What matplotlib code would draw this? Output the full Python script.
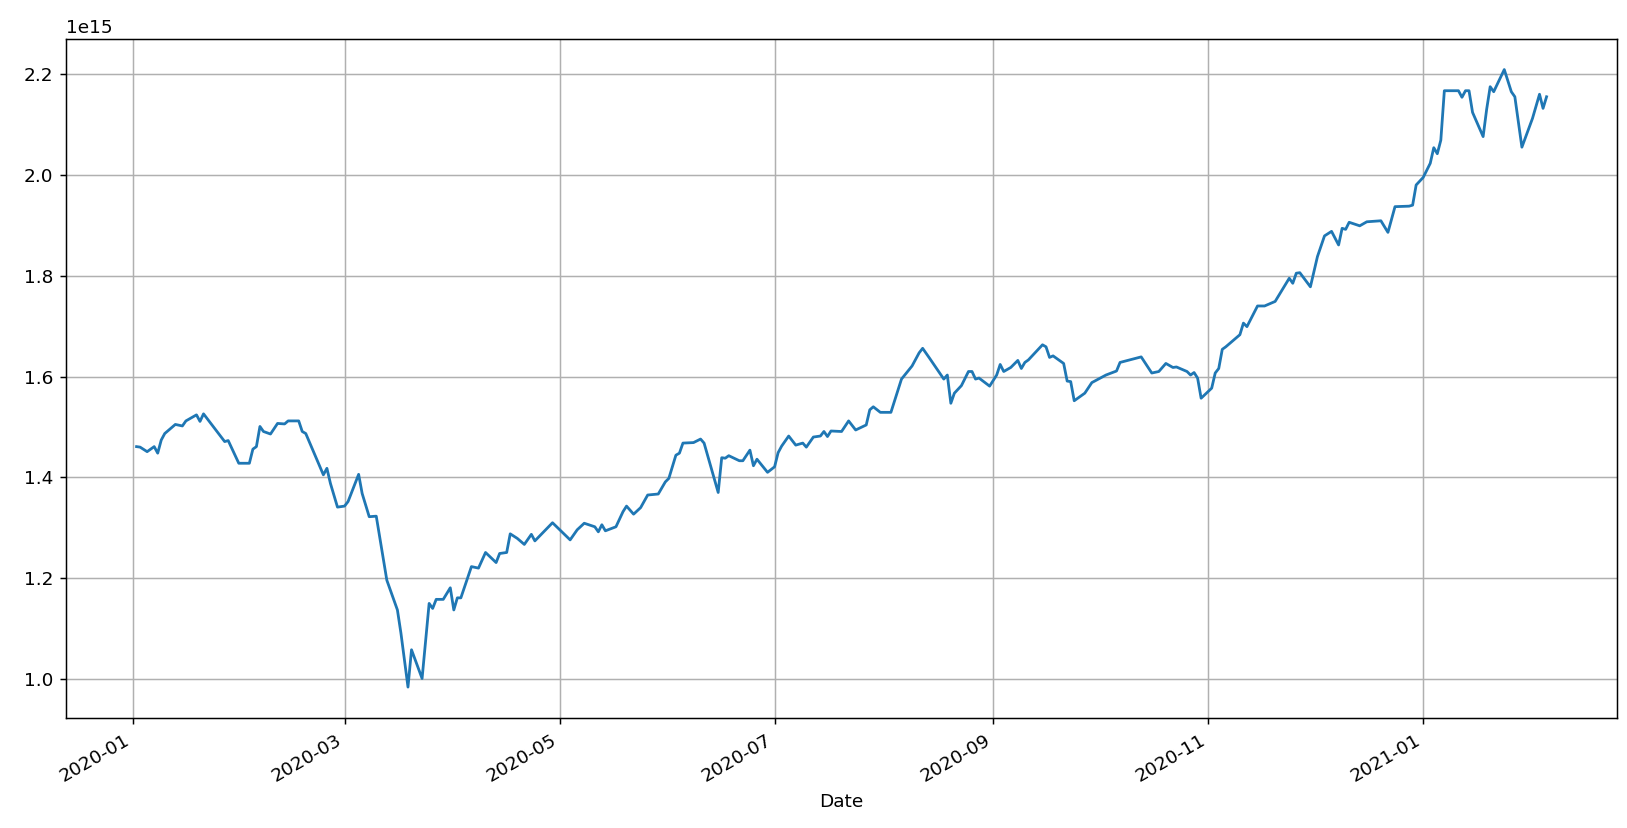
import matplotlib
matplotlib.use("Agg")
import matplotlib.pyplot as plt
import pandas as pd

# valeurs (unité : 1e15)
dates = [
    "2020-01-02", "2020-01-03", "2020-01-05", "2020-01-07", "2020-01-08", "2020-01-09",
    "2020-01-10", "2020-01-13", "2020-01-15", "2020-01-16", "2020-01-19", "2020-01-20",
    "2020-01-21", "2020-01-27", "2020-01-28", "2020-01-31", "2020-02-03", "2020-02-04",
    "2020-02-05", "2020-02-06", "2020-02-07", "2020-02-09", "2020-02-11", "2020-02-13",
    "2020-02-14", "2020-02-17", "2020-02-18", "2020-02-19", "2020-02-24", "2020-02-25",
    "2020-02-26", "2020-02-28", "2020-03-01", "2020-03-02", "2020-03-05", "2020-03-06",
    "2020-03-08", "2020-03-10", "2020-03-13", "2020-03-15", "2020-03-16", "2020-03-17",
    "2020-03-19", "2020-03-20", "2020-03-23", "2020-03-25", "2020-03-26", "2020-03-27",
    "2020-03-29", "2020-03-31", "2020-04-01", "2020-04-02", "2020-04-03", "2020-04-06",
    "2020-04-08", "2020-04-10", "2020-04-13", "2020-04-14", "2020-04-16", "2020-04-17",
    "2020-04-19", "2020-04-21", "2020-04-23", "2020-04-24", "2020-04-29", "2020-05-04",
    "2020-05-06", "2020-05-08", "2020-05-11", "2020-05-12", "2020-05-13", "2020-05-14",
    "2020-05-17", "2020-05-19", "2020-05-20", "2020-05-22", "2020-05-24", "2020-05-26",
    "2020-05-29", "2020-05-31", "2020-06-01", "2020-06-03", "2020-06-04", "2020-06-05",
    "2020-06-08", "2020-06-10", "2020-06-11", "2020-06-15", "2020-06-16", "2020-06-17",
    "2020-06-18", "2020-06-21", "2020-06-22", "2020-06-24", "2020-06-25", "2020-06-26",
    "2020-06-29", "2020-07-01", "2020-07-02", "2020-07-03", "2020-07-05", "2020-07-07",
    "2020-07-09", "2020-07-10", "2020-07-12", "2020-07-14", "2020-07-15", "2020-07-16",
    "2020-07-17", "2020-07-20", "2020-07-22", "2020-07-24", "2020-07-27", "2020-07-28",
    "2020-07-29", "2020-07-31", "2020-08-03", "2020-08-06", "2020-08-09", "2020-08-11",
    "2020-08-12", "2020-08-14", "2020-08-18", "2020-08-19", "2020-08-20", "2020-08-21",
    "2020-08-23", "2020-08-25", "2020-08-26", "2020-08-27", "2020-08-28", "2020-08-31",
    "2020-09-02", "2020-09-03", "2020-09-04", "2020-09-06", "2020-09-08", "2020-09-09",
    "2020-09-10", "2020-09-11", "2020-09-15", "2020-09-16", "2020-09-17", "2020-09-18",
    "2020-09-21", "2020-09-22", "2020-09-23", "2020-09-24", "2020-09-27", "2020-09-29",
    "2020-10-03", "2020-10-06", "2020-10-07", "2020-10-13", "2020-10-16", "2020-10-18",
    "2020-10-20", "2020-10-22", "2020-10-23", "2020-10-26", "2020-10-27", "2020-10-28",
    "2020-10-29", "2020-10-30", "2020-11-02", "2020-11-03", "2020-11-04", "2020-11-05",
    "2020-11-06", "2020-11-10", "2020-11-11", "2020-11-12", "2020-11-15", "2020-11-17",
    "2020-11-20", "2020-11-24", "2020-11-25", "2020-11-26", "2020-11-27", "2020-11-30",
    "2020-12-02", "2020-12-04", "2020-12-06", "2020-12-08", "2020-12-09", "2020-12-10",
    "2020-12-11", "2020-12-14", "2020-12-16", "2020-12-20", "2020-12-22", "2020-12-24",
    "2020-12-28", "2020-12-29", "2020-12-30", "2021-01-01", "2021-01-03", "2021-01-04",
    "2021-01-05", "2021-01-06", "2021-01-07", "2021-01-11", "2021-01-12", "2021-01-13",
    "2021-01-14", "2021-01-15", "2021-01-18", "2021-01-19", "2021-01-20", "2021-01-21",
    "2021-01-24", "2021-01-26", "2021-01-27", "2021-01-29", "2021-02-01", "2021-02-03",
    "2021-02-04", "2021-02-05",
]
valeurs = [
    1.461, 1.460, 1.451, 1.461, 1.448, 1.474,
    1.487, 1.505, 1.502, 1.512, 1.524, 1.511,
    1.526, 1.471, 1.473, 1.428, 1.428, 1.456,
    1.461, 1.501, 1.491, 1.486, 1.507, 1.506,
    1.512, 1.512, 1.491, 1.487, 1.405, 1.418,
    1.388, 1.341, 1.343, 1.352, 1.406, 1.368,
    1.322, 1.323, 1.196, 1.157, 1.137, 1.091,
    0.984, 1.058, 1.001, 1.150, 1.140, 1.158,
    1.158, 1.181, 1.137, 1.161, 1.161, 1.223,
    1.220, 1.251, 1.231, 1.249, 1.251, 1.288,
    1.279, 1.267, 1.287, 1.274, 1.310, 1.276,
    1.296, 1.309, 1.302, 1.292, 1.306, 1.294,
    1.302, 1.332, 1.343, 1.327, 1.340, 1.365,
    1.367, 1.391, 1.398, 1.444, 1.448, 1.468,
    1.469, 1.476, 1.468, 1.370, 1.439, 1.438,
    1.443, 1.433, 1.433, 1.454, 1.423, 1.436,
    1.410, 1.421, 1.449, 1.462, 1.482, 1.464,
    1.468, 1.460, 1.480, 1.482, 1.491, 1.481,
    1.492, 1.491, 1.512, 1.494, 1.504, 1.534,
    1.540, 1.529, 1.529, 1.595, 1.621, 1.647,
    1.656, 1.636, 1.595, 1.603, 1.547, 1.567,
    1.582, 1.610, 1.610, 1.595, 1.597, 1.581,
    1.603, 1.624, 1.610, 1.618, 1.632, 1.616,
    1.628, 1.633, 1.663, 1.659, 1.638, 1.641,
    1.626, 1.591, 1.590, 1.552, 1.567, 1.588,
    1.603, 1.611, 1.628, 1.639, 1.607, 1.610,
    1.626, 1.618, 1.619, 1.610, 1.603, 1.608,
    1.597, 1.557, 1.577, 1.607, 1.616, 1.654,
    1.659, 1.683, 1.706, 1.699, 1.740, 1.740,
    1.749, 1.795, 1.785, 1.805, 1.806, 1.778,
    1.838, 1.879, 1.888, 1.861, 1.894, 1.892,
    1.906, 1.899, 1.907, 1.909, 1.886, 1.937,
    1.938, 1.940, 1.980, 1.995, 2.023, 2.054,
    2.042, 2.069, 2.167, 2.167, 2.154, 2.167,
    2.167, 2.124, 2.076, 2.130, 2.175, 2.165,
    2.209, 2.165, 2.155, 2.055, 2.112, 2.160,
    2.132, 2.155,
]

serie = pd.Series([v * 1e15 for v in valeurs], index=pd.to_datetime(dates))

dpi = 133.33
fig, ax = plt.subplots(figsize=(1627 / dpi, 828 / dpi), dpi=dpi)
ax.plot(serie.index, serie.values, color="#1f77b4", linewidth=1.5)
ax.grid(True)
ax.set_xlabel("Date")
fig.autofmt_xdate()
fig.subplots_adjust(left=0.0406, right=0.9939, top=0.9533, bottom=0.1329)

fig.savefig("out.png", dpi=dpi)
